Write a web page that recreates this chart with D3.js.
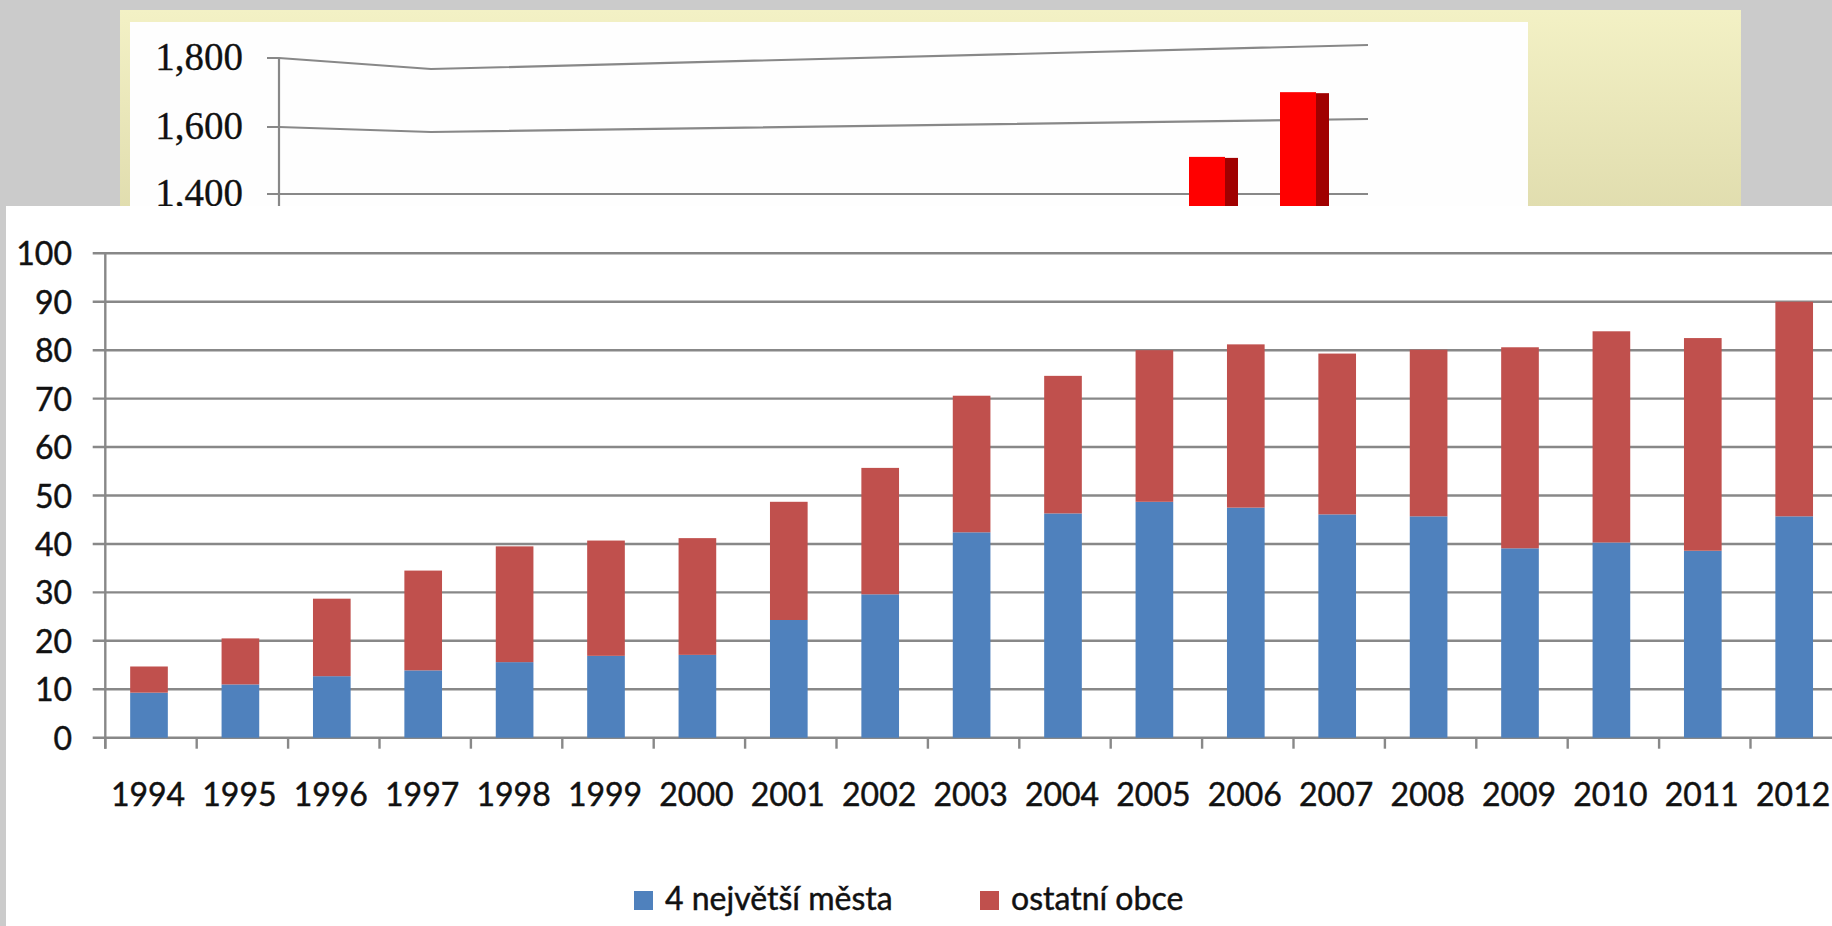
<!DOCTYPE html>
<html>
<head>
<meta charset="utf-8">
<title>4 největší města / ostatní obce</title>
<script src="https://d3js.org/d3.v7.js"></script>
<style>
  body { margin: 0; background: #cbcbcb; }
  svg { display: block; }
  .front text { font-family: Lato, "Open Sans", sans-serif; fill: #111; stroke: #111; stroke-width: 0.45; }
  .back text { font-family: "Liberation Serif", serif; fill: #111; stroke: #111; stroke-width: 0.3; }
</style>
</head>
<body>
<div id="chart"></div>
<script>
// data
var years = ["1994","1995","1996","1997","1998","1999","2000","2001","2002","2003",
             "2004","2005","2006","2007","2008","2009","2010","2011","2012"];
var bigCities = [9.3, 11.0, 12.7, 13.9, 15.6, 16.9, 17.1, 24.3, 29.6, 42.4,
                 46.3, 48.7, 47.5, 46.1, 45.7, 39.1, 40.3, 38.6, 45.7];
var otherTowns = [5.4, 9.5, 16.0, 20.6, 23.9, 23.8, 24.1, 24.4, 26.1, 28.2,
                  28.4, 31.3, 33.7, 33.2, 34.4, 41.5, 43.6, 43.9, 44.3];
var yTicks = [0, 10, 20, 30, 40, 50, 60, 70, 80, 90, 100];
var seriesNames = ["4 největší města", "ostatní obce"];
var seriesColors = ["#4f81bd", "#c0504d"];

// the slide behind (only its top is visible)
var backTicks = [1400, 1600, 1800];
var backValues = [1502, 1676];

var W = 1832, H = 926;

var svg = d3.select("#chart")
  .append("svg")
    .attr("width", W)
    .attr("height", H);

// ---------- background slide ----------
var defs = svg.append("defs");
var grad = defs.append("linearGradient")
    .attr("id", "yel")
    .attr("x1", 0).attr("y1", 0).attr("x2", 0).attr("y2", 1);
grad.append("stop").attr("offset", "0%").attr("stop-color", "#f3f1c5");
grad.append("stop").attr("offset", "100%").attr("stop-color", "#dcd8a9");

var back = svg.append("g").attr("class", "back");

back.append("rect")
    .attr("x", 120).attr("y", 10)
    .attr("width", 1621).attr("height", 250)
    .attr("fill", "url(#yel)");
back.append("rect")
    .attr("x", 130).attr("y", 22)
    .attr("width", 1398).attr("height", 240)
    .attr("fill", "#fefefe");

// 3D chart: gridlines bend at the back wall corner
var xLeft = 279, xBend = 431, xEnd = 1368;
var yLeft = d3.scaleLinear().domain([1400, 1600, 1800]).range([194, 127, 58]);
var yMid = d3.scaleLinear().domain([1400, 1600, 1800]).range([194, 132, 69]);
var yRight = d3.scaleLinear().domain([1400, 1600, 1800]).range([194, 119, 45]);
function backY(v, x) {
  var t = (x - xBend) / (xEnd - xBend);
  return d3.interpolateNumber(yMid(v), yRight(v))(t);
}

back.selectAll(".bgrid")
  .data(backTicks)
  .enter()
  .append("path")
    .attr("d", function(v) {
      return d3.line()([[xLeft - 12, yLeft(v)], [xLeft, yLeft(v)], [xBend, yMid(v)], [xEnd, yRight(v)]]);
    })
    .attr("fill", "none")
    .attr("stroke", "#888")
    .attr("stroke-width", 2.2);

back.append("line")
    .attr("x1", xLeft).attr("x2", xLeft)
    .attr("y1", yLeft(1800)).attr("y2", 260)
    .attr("stroke", "#888")
    .attr("stroke-width", 2.2);

back.selectAll(".blabel")
  .data(backTicks)
  .enter()
  .append("text")
    .attr("x", 243)
    .attr("y", function(v) { return yLeft(v) + 3; })
    .attr("text-anchor", "end")
    .attr("dominant-baseline", "middle")
    .attr("font-size", 39)
    .text(function(v) { return d3.format(",")(v); });

// last two 3D bars
var xBack = d3.scalePoint().domain([0, 1]).range([1207, 1298]);
var bw = 36, side = 13;
var bb = back.selectAll(".bbar")
  .data(backValues)
  .enter()
  .append("g");
bb.append("rect")
    .attr("x", function(d, i) { return xBack(i) - bw / 2 + bw; })
    .attr("y", function(d, i) { return backY(d, xBack(i)) + 1; })
    .attr("width", side)
    .attr("height", function(d, i) { return 260 - backY(d, xBack(i)); })
    .attr("fill", "#a00000");
bb.append("rect")
    .attr("x", function(d, i) { return xBack(i) - bw / 2; })
    .attr("y", function(d, i) { return backY(d, xBack(i)); })
    .attr("width", bw)
    .attr("height", function(d, i) { return 260 - backY(d, xBack(i)); })
    .attr("fill", "#ff0000");

// ---------- front panel ----------
svg.append("rect")
    .attr("x", 6).attr("y", 206)
    .attr("width", W - 6).attr("height", H - 206)
    .attr("fill", "#ffffff");

var front = svg.append("g").attr("class", "front");

var x = d3.scaleBand()
  .domain(years)
  .range([105.3, 105.3 + 91.4 * years.length])
  .paddingInner(0.588)
  .paddingOuter(0.294);

var y = d3.scaleLinear()
  .domain([0, 100])
  .range([737.7, 253.3]);

// gridlines (with the little tick on the left)
front.selectAll(".grid")
  .data(yTicks)
  .enter()
  .append("line")
    .attr("x1", 92.7).attr("x2", W)
    .attr("y1", function(d) { return y(d); })
    .attr("y2", function(d) { return y(d); })
    .attr("stroke", "#888")
    .attr("stroke-width", 2.4);

// y axis line
front.append("line")
    .attr("x1", 105.3).attr("x2", 105.3)
    .attr("y1", y(100)).attr("y2", y(0) + 11)
    .attr("stroke", "#888")
    .attr("stroke-width", 2.4);

// x ticks between categories
front.selectAll(".xtick")
  .data(years)
  .enter()
  .append("line")
    .attr("x1", function(d) { return x(d) - x.step() * x.paddingOuter(); })
    .attr("x2", function(d) { return x(d) - x.step() * x.paddingOuter(); })
    .attr("y1", y(0)).attr("y2", y(0) + 11)
    .attr("stroke", "#888")
    .attr("stroke-width", 2.4);

// stacked bars
var table = years.map(function(yr, i) {
  return { year: yr, a: bigCities[i], b: otherTowns[i] };
});
var stacked = d3.stack().keys(["a", "b"])(table);

front.selectAll(".series")
  .data(stacked)
  .enter()
  .append("g")
    .attr("fill", function(d, i) { return seriesColors[i]; })
  .selectAll("rect")
  .data(function(d) { return d; })
  .enter()
  .append("rect")
    .attr("x", function(d) { return x(d.data.year) - 2; })
    .attr("y", function(d) { return y(d[1]); })
    .attr("width", x.bandwidth())
    .attr("height", function(d) { return y(d[0]) - y(d[1]); });

// labels
front.selectAll(".ylab")
  .data(yTicks)
  .enter()
  .append("text")
    .attr("x", 72)
    .attr("y", function(d) { return y(d) + 4; })
    .attr("text-anchor", "end")
    .attr("dominant-baseline", "middle")
    .attr("font-size", 32)
    .text(function(d) { return d; });

front.selectAll(".xlab")
  .data(years)
  .enter()
  .append("text")
    .attr("x", function(d) { return x(d) + x.bandwidth() / 2 - 3; })
    .attr("y", 798)
    .attr("text-anchor", "middle")
    .attr("dominant-baseline", "middle")
    .attr("font-size", 32)
    .text(function(d) { return d; });

// legend
var legX = [634, 980];
var leg = front.selectAll(".leg")
  .data(seriesNames)
  .enter()
  .append("g")
    .attr("transform", function(d, i) { return "translate(" + legX[i] + ",901)"; });
leg.append("rect")
    .attr("x", 0).attr("y", -10)
    .attr("width", 19).attr("height", 19)
    .attr("fill", function(d, i) { return seriesColors[i]; });
leg.append("text")
    .attr("x", 31)
    .attr("y", 1)
    .attr("dominant-baseline", "middle")
    .attr("font-size", 32)
    .text(function(d) { return d; });
</script>
</body>
</html>
